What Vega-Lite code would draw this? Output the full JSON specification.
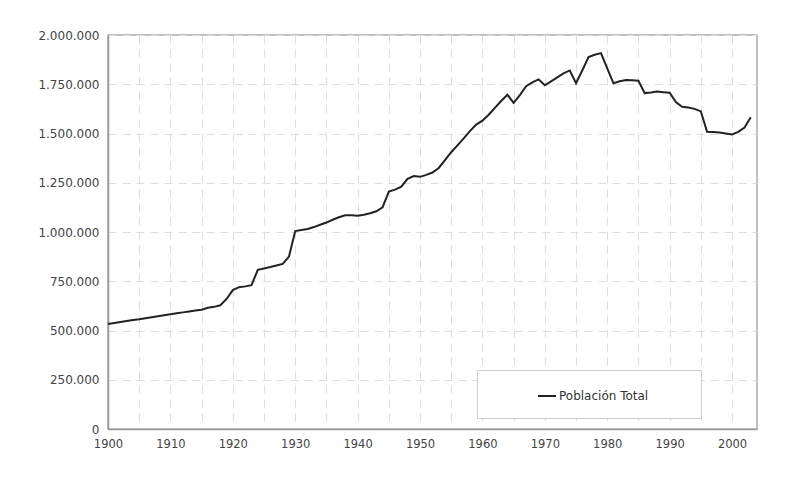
{
  "$schema": "https://vega.github.io/schema/vega-lite/v6.json",
  "width": 792,
  "height": 478,
  "autosize": {"type": "fit", "contains": "padding"},
  "padding": {"left": 37, "top": 29, "right": 35, "bottom": 27},
  "background": "white",
  "config": {
    "locale": {"number": {"decimal": ",", "thousands": ".", "grouping": [3], "currency": ["", " €"]}},
    "view": {"stroke": "#aaaaaa", "strokeWidth": 1.5},
    "font": "DejaVu Sans"
  },
  "data": {
    "values": [
      {"year": 1900, "pob": 533000}, {"year": 1901, "pob": 538000}, {"year": 1902, "pob": 543000},
      {"year": 1903, "pob": 548000}, {"year": 1904, "pob": 553000}, {"year": 1905, "pob": 557000},
      {"year": 1906, "pob": 562000}, {"year": 1907, "pob": 567000}, {"year": 1908, "pob": 572000},
      {"year": 1909, "pob": 577000}, {"year": 1910, "pob": 582000}, {"year": 1911, "pob": 587000},
      {"year": 1912, "pob": 592000}, {"year": 1913, "pob": 597000}, {"year": 1914, "pob": 601000},
      {"year": 1915, "pob": 605000}, {"year": 1916, "pob": 615000}, {"year": 1917, "pob": 620000},
      {"year": 1918, "pob": 628000}, {"year": 1919, "pob": 660000}, {"year": 1920, "pob": 705000},
      {"year": 1921, "pob": 720000}, {"year": 1922, "pob": 724000}, {"year": 1923, "pob": 730000},
      {"year": 1924, "pob": 808000}, {"year": 1925, "pob": 815000}, {"year": 1926, "pob": 822000},
      {"year": 1927, "pob": 830000}, {"year": 1928, "pob": 838000}, {"year": 1929, "pob": 875000},
      {"year": 1930, "pob": 1005000}, {"year": 1931, "pob": 1010000}, {"year": 1932, "pob": 1015000},
      {"year": 1933, "pob": 1025000}, {"year": 1934, "pob": 1037000}, {"year": 1935, "pob": 1048000},
      {"year": 1936, "pob": 1062000}, {"year": 1937, "pob": 1075000}, {"year": 1938, "pob": 1085000},
      {"year": 1939, "pob": 1085000}, {"year": 1940, "pob": 1082000}, {"year": 1941, "pob": 1088000},
      {"year": 1942, "pob": 1095000}, {"year": 1943, "pob": 1105000}, {"year": 1944, "pob": 1125000},
      {"year": 1945, "pob": 1205000}, {"year": 1946, "pob": 1215000}, {"year": 1947, "pob": 1230000},
      {"year": 1948, "pob": 1270000}, {"year": 1949, "pob": 1284000}, {"year": 1950, "pob": 1280000},
      {"year": 1951, "pob": 1290000}, {"year": 1952, "pob": 1302000}, {"year": 1953, "pob": 1325000},
      {"year": 1954, "pob": 1365000}, {"year": 1955, "pob": 1405000}, {"year": 1956, "pob": 1440000},
      {"year": 1957, "pob": 1475000}, {"year": 1958, "pob": 1512000}, {"year": 1959, "pob": 1545000},
      {"year": 1960, "pob": 1565000}, {"year": 1961, "pob": 1595000}, {"year": 1962, "pob": 1630000},
      {"year": 1963, "pob": 1665000}, {"year": 1964, "pob": 1697000}, {"year": 1965, "pob": 1655000},
      {"year": 1966, "pob": 1695000}, {"year": 1967, "pob": 1740000}, {"year": 1968, "pob": 1760000},
      {"year": 1969, "pob": 1775000}, {"year": 1970, "pob": 1745000}, {"year": 1971, "pob": 1765000},
      {"year": 1972, "pob": 1785000}, {"year": 1973, "pob": 1805000}, {"year": 1974, "pob": 1820000},
      {"year": 1975, "pob": 1755000}, {"year": 1976, "pob": 1820000}, {"year": 1977, "pob": 1888000},
      {"year": 1978, "pob": 1900000}, {"year": 1979, "pob": 1908000}, {"year": 1980, "pob": 1830000},
      {"year": 1981, "pob": 1755000}, {"year": 1982, "pob": 1765000}, {"year": 1983, "pob": 1772000},
      {"year": 1984, "pob": 1770000}, {"year": 1985, "pob": 1768000}, {"year": 1986, "pob": 1705000},
      {"year": 1987, "pob": 1708000}, {"year": 1988, "pob": 1713000}, {"year": 1989, "pob": 1710000},
      {"year": 1990, "pob": 1707000}, {"year": 1991, "pob": 1660000}, {"year": 1992, "pob": 1636000},
      {"year": 1993, "pob": 1632000}, {"year": 1994, "pob": 1625000}, {"year": 1995, "pob": 1612000},
      {"year": 1996, "pob": 1509000}, {"year": 1997, "pob": 1507000}, {"year": 1998, "pob": 1505000},
      {"year": 1999, "pob": 1500000}, {"year": 2000, "pob": 1495000}, {"year": 2001, "pob": 1508000},
      {"year": 2002, "pob": 1530000}, {"year": 2003, "pob": 1582000}
    ]
  },
  "transform": [{"fold": ["pob"], "as": ["serie", "valor"]}],
  "mark": {"type": "line", "strokeWidth": 2, "color": "#222222"},
  "encoding": {
    "x": {
      "field": "year",
      "type": "quantitative",
      "scale": {"domain": [1900, 2004], "nice": false, "zero": false},
      "axis": {
        "title": null,
        "values": [1900, 1905, 1910, 1915, 1920, 1925, 1930, 1935, 1940, 1945, 1950, 1955, 1960, 1965, 1970, 1975, 1980, 1985, 1990, 1995, 2000],
        "format": "d",
        "labelExpr": "datum.value % 10 == 0 ? datum.label : ''",
        "ticks": false,
        "labelPadding": 9,
        "labelFontSize": 11.5,
        "labelColor": "#444444",
        "labelFont": "DejaVu Sans",
        "domainColor": "#999999",
        "domainWidth": 1.5,
        "grid": true,
        "gridColor": "#dddddd",
        "gridDash": [8, 6],
        "minExtent": 22,
        "maxExtent": 22,
        "labelFlush": false
      }
    },
    "y": {
      "field": "valor",
      "type": "quantitative",
      "scale": {"domain": [0, 2000000], "nice": false},
      "axis": {
        "title": null,
        "values": [0, 250000, 500000, 750000, 1000000, 1250000, 1500000, 1750000, 2000000],
        "format": ",d",
        "ticks": false,
        "labelPadding": 9,
        "labelFontSize": 12,
        "labelColor": "#444444",
        "labelFont": "DejaVu Sans",
        "domainColor": "#999999",
        "domainWidth": 1.5,
        "grid": true,
        "gridColor": "#dddddd",
        "gridDash": [8, 6],
        "minExtent": 70,
        "maxExtent": 70
      }
    },
    "color": {
      "field": "serie",
      "type": "nominal",
      "scale": {"domain": ["pob"], "range": ["#222222"]},
      "legend": {
        "title": "\u00a0",
        "titleOrient": "right",
        "titlePadding": 37,
        "titleFontSize": 12,
        "orient": "none",
        "legendX": 369,
        "legendY": 335,
        "labelExpr": "'Población Total'",
        "symbolType": "stroke",
        "symbolSize": 324,
        "symbolStrokeWidth": 2,
        "labelOffset": 2,
        "labelFontSize": 12,
        "labelLimit": 400,
        "labelColor": "#333333",
        "labelFont": "DejaVu Sans",
        "padding": 16,
        "symbolOffset": 44,
        "fillColor": "white",
        "strokeColor": "#cccccc"
      }
    }
  }
}
